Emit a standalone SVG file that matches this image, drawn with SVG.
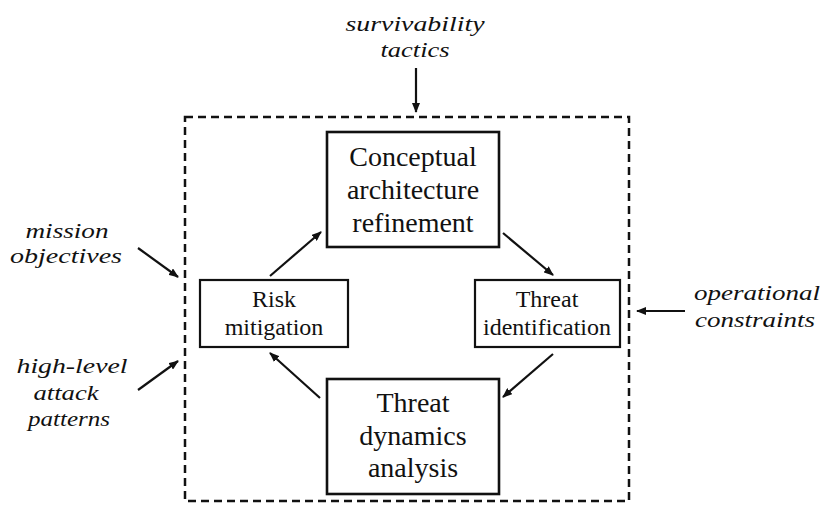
<svg xmlns="http://www.w3.org/2000/svg" width="825" height="506" viewBox="0 0 825 506">
<style>
  .lbl{font-family:"Liberation Serif","Times New Roman",serif;font-style:italic;font-size:22px;fill:#111;text-anchor:middle}
  .big{font-family:"Liberation Serif","Times New Roman",serif;font-size:28px;fill:#111;text-anchor:middle}
  .sm{font-family:"Liberation Serif","Times New Roman",serif;font-size:24px;fill:#111;text-anchor:middle}
  .box{fill:#fff;stroke:#111;stroke-width:2.2}
  .boxb{fill:#fff;stroke:#111;stroke-width:2.6}
  .frame{fill:none;stroke:#111;stroke-width:2.5;stroke-dasharray:8 5}
  .arr{stroke:#111;stroke-width:2.2;fill:none;marker-end:url(#ah)}
</style>
<defs>
  <marker id="ah" viewBox="0 0 10 8" refX="9" refY="4" markerWidth="10" markerHeight="8" markerUnits="userSpaceOnUse" orient="auto">
    <path d="M0,0 L10,4 L0,8 Z" fill="#111"/>
  </marker>
</defs>
<rect width="825" height="506" fill="#fff"/>
<g id="frame"><rect class="frame" x="185" y="117" width="444" height="384"/></g>
<g id="survivability-tactics">
  <text class="lbl" x="415" y="31" textLength="139" lengthAdjust="spacingAndGlyphs">survivability</text>
  <text class="lbl" x="415" y="57" textLength="69" lengthAdjust="spacingAndGlyphs">tactics</text>
</g>
<g id="mission-objectives">
  <text class="lbl" x="67" y="238" textLength="83" lengthAdjust="spacingAndGlyphs">mission</text>
  <text class="lbl" x="66" y="263" textLength="112" lengthAdjust="spacingAndGlyphs">objectives</text>
</g>
<g id="high-level-attack-patterns">
  <text class="lbl" x="72" y="373" textLength="111" lengthAdjust="spacingAndGlyphs">high-level</text>
  <text class="lbl" x="66" y="400" textLength="65" lengthAdjust="spacingAndGlyphs">attack</text>
  <text class="lbl" x="69" y="426" textLength="82" lengthAdjust="spacingAndGlyphs">patterns</text>
</g>
<g id="operational-constraints">
  <text class="lbl" x="757" y="300" textLength="126" lengthAdjust="spacingAndGlyphs">operational</text>
  <text class="lbl" x="755" y="327" textLength="120" lengthAdjust="spacingAndGlyphs">constraints</text>
</g>
<g id="conceptual">
  <rect class="boxb" x="327" y="132" width="172" height="115"/>
  <text class="big" x="413" y="166">Conceptual</text>
  <text class="big" x="413" y="199">architecture</text>
  <text class="big" x="413" y="232">refinement</text>
</g>
<g id="risk">
  <rect class="box" x="200" y="280" width="148" height="67"/>
  <text class="sm" x="274" y="307">Risk</text>
  <text class="sm" x="274" y="335">mitigation</text>
</g>
<g id="threat-id">
  <rect class="box" x="475" y="280" width="145" height="67"/>
  <text class="sm" x="547" y="307">Threat</text>
  <text class="sm" x="547" y="335">identification</text>
</g>
<g id="dynamics">
  <rect class="boxb" x="327" y="379" width="172" height="115"/>
  <text class="big" x="413" y="412">Threat</text>
  <text class="big" x="413" y="445">dynamics</text>
  <text class="big" x="413" y="477">analysis</text>
</g>
<g id="connectors">
  <line class="arr" x1="416" y1="68" x2="416" y2="112"/>
  <line class="arr" x1="138" y1="248" x2="178" y2="277"/>
  <line class="arr" x1="138" y1="390" x2="178" y2="361"/>
  <line class="arr" x1="685" y1="311" x2="637" y2="311"/>
  <line class="arr" x1="270" y1="276" x2="321" y2="232"/>
  <line class="arr" x1="503" y1="233" x2="553" y2="275"/>
  <line class="arr" x1="553" y1="354" x2="503" y2="397"/>
  <line class="arr" x1="320" y1="398" x2="270" y2="353"/>
</g>
</svg>
